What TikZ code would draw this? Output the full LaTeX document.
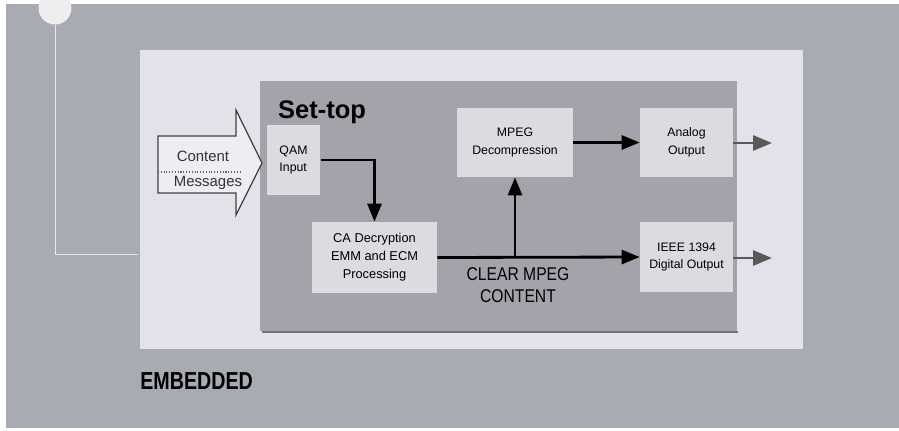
\documentclass[tikz,border=0pt]{standalone}
\usepackage{fontspec}
\setmainfont{Liberation Sans}
\usetikzlibrary{arrows.meta, positioning, calc}

\definecolor{bggray}{RGB}{169,171,179}
\definecolor{panelpink}{RGB}{228,225,234}
\definecolor{settopgray}{RGB}{163,164,171}
\definecolor{blockfill}{RGB}{219,219,224}

\begin{document}
\begin{tikzpicture}[x=0.02cm, y=-0.02cm,
        blk/.style={rectangle, fill=blockfill, inner sep=0pt, align=center, font=\fontsize{7}{10}\selectfont},
        flow/.style={-{Triangle[length=3.6mm, width=2.8mm]}, line width=1.6pt},
        outp/.style={-{Triangle[length=3.8mm, width=3mm]}, line width=1.6pt, draw=black!65, fill=black!65},
        guide/.style={draw=white!70!bggray, line width=0.4pt},
    ]
        \useasboundingbox (0,0) rectangle (899,430);
        \fill[white] (0,0) rectangle (899,430);
        \fill[bggray] (6,4) rectangle (899,428);
        \fill[panelpink] (140,50) rectangle (803,349);
        \fill[settopgray] (260,81) rectangle (737,331);
        \draw[black!55, line width=1.5pt] (262,332) -- (738,332);

        % corner marker and guide line
        \node[circle, fill=white!80!bggray, minimum size=0.66cm, inner sep=0pt] (dot) at (55,8) {};
        \coordinate (guideend) at (138,254);
        \draw[guide] (dot) |- (guideend);

        \node[anchor=base west, font=\bfseries\fontsize{14.5}{16}\selectfont] (title) at (272,118) {Set-top};

        \node[blk, minimum width=1.08cm, minimum height=1.4cm, align=left] (qam) at (293.5,160) {QAM\\Input};
        \node[blk, minimum width=2.5cm, minimum height=1.42cm, font=\fontsize{7.3}{10.3}\selectfont] (ca) at (374.5,257.5) {CA Decryption\\EMM and ECM\\Processing};
        \node[blk, minimum width=2.32cm, minimum height=1.38cm] (mpeg) at (515,142.5) {MPEG\\Decompression};
        \node[blk, minimum width=1.86cm, minimum height=1.38cm] (analog) at (686.5,142.5) {Analog\\Output};
        \node[blk, minimum width=1.86cm, minimum height=1.4cm] (ieee) at (686.5,257) {IEEE 1394\\Digital Output};

        % input block arrow
        \draw[fill=white!40!panelpink, draw=black!75, line width=0.7pt]
            (158,136) -- (236,136) -- (236,110) -- (262,163) -- (236,215) -- (236,193) -- (158,193) -- cycle;
        \draw[black!60, densely dotted, line width=0.6pt] (158,172) -- (240,172);
        \node[font=\fontsize{8.5}{10}\selectfont, text=black!80] (content) at (203,156) {Content};
        \node[font=\fontsize{8.5}{10}\selectfont, text=black!80] (messages) at (208,183) {Messages};

        \draw[flow] (qam.east) -| (ca.north);
        \draw[flow] (ca.east) -- (ieee.west);
        \coordinate (split) at (mpeg.south |- ca.east);
        \draw[flow] (split) -- (mpeg.south);
        \draw[flow] (mpeg.east) -- (analog.west);

        \coordinate (aout) at (772,143);
        \coordinate (dout) at (772,258);
        \draw[outp] (analog.east |- aout) -- (aout);
        \draw[outp] (ieee.east |- dout) -- (dout);

        \node[align=center, font=\fontsize{10.5}{12.5}\selectfont] (clear) at (518,285)
            {\scalebox{0.85}[1]{CLEAR MPEG}\\\scalebox{0.85}[1]{CONTENT}};
        \node[anchor=base west, inner sep=0pt, font=\bfseries\fontsize{14}{16}\selectfont] (embedded) at (140,389)
            {\scalebox{0.8}[1]{EMBEDDED}};
    \end{tikzpicture}
\end{document}
